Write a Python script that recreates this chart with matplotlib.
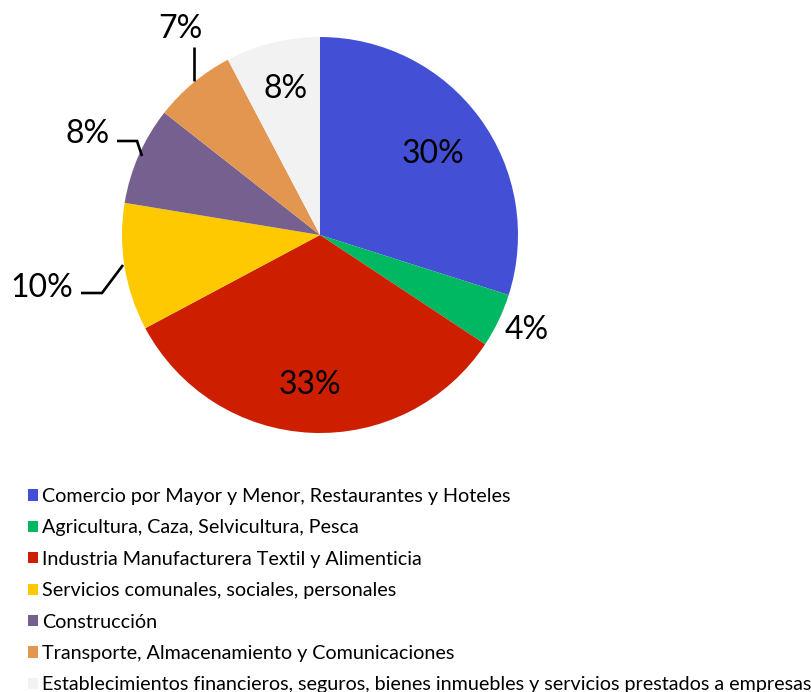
import matplotlib
matplotlib.use("Agg")
import matplotlib.pyplot as plt

categories = [
    "Comercio por Mayor y Menor, Restaurantes y Hoteles",
    "Agricultura, Caza, Selvicultura, Pesca",
    "Industria Manufacturera Textil y Alimenticia",
    "Servicios comunales, sociales, personales",
    "Construcción",
    "Transporte, Almacenamiento y Comunicaciones",
    "Establecimientos financieros, seguros, bienes inmuebles y servicios prestados a empresas",
]
values = [29.9, 4.4, 32.9, 10.4, 8.0, 6.7, 7.7]
pct_labels = ["30%", "4%", "33%", "10%", "8%", "7%", "8%"]
colors = ["#4350D6", "#00B862", "#CD1F00", "#FFC900", "#76608F", "#E3964F", "#F2F2F2"]

W, H = 812, 692
plt.rcParams['font.family'] = ['Lato', 'DejaVu Sans']
fig = plt.figure(figsize=(W / 100, H / 100), dpi=100)
ax = fig.add_axes([0, 0, 1, 1])

cx, cy, r = 320, 235, 198
wedges, _ = ax.pie(values, colors=colors, startangle=90, counterclock=False,
                   center=(cx, H - cy), radius=r, frame=True,
                   wedgeprops=dict(linewidth=0))
ax.set_xlim(0, W)
ax.set_ylim(0, H)
ax.axis('off')

# label positions (image pixel coords: centre x, baseline y)
label_pos = [(433, 163), (527, 339), (310, 394), (42, 297), (88, 143), (180, 38), (286, 98)]
for txt, (x, y) in zip(pct_labels, label_pos):
    ax.text(x, H - y, txt, ha='center', va='baseline', fontsize=23, color='black')

# leader lines
leaders = [
    [(81, 293), (102, 293), (123, 265)],
    [(117, 141), (137, 141), (142, 156)],
    [(194, 47), (194, 81)],
]
for pts in leaders:
    xs = [p[0] for p in pts]
    ys = [H - p[1] for p in pts]
    ax.plot(xs, ys, color='black', lw=1.9, solid_capstyle='butt', solid_joinstyle='miter')

fig.legend(wedges, categories, loc='upper left', bbox_to_anchor=(28 / W, 1 - 488 / H),
           frameon=False, fontsize=14.2, handlelength=0.5, handleheight=0.5,
           handletextpad=0.2, labelspacing=0.73, borderpad=0, borderaxespad=0)

fig.savefig("out.png", dpi=100)
